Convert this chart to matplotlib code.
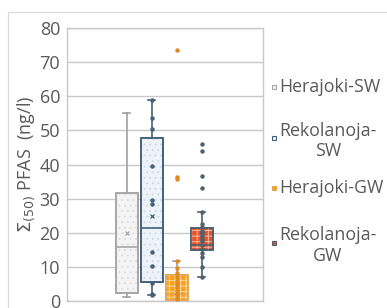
import matplotlib
matplotlib.use("Agg")
import matplotlib.pyplot as plt
from matplotlib.patches import PathPatch, Rectangle
from matplotlib.lines import Line2D

#=========================================================================================
names = ['Herajoki-SW', 'Rekolanoja-\nSW', 'Herajoki-GW', 'Rekolanoja-\nGW']
medians = [15.9, 21.4, 2.0, 16.5]
q1 = [2.4, 5.7, 0.3, 14.9]
q3 = [31.7, 47.7, 7.5, 21.4]
whislo = [1.2, 1.7, 0.0, 6.9]
whishi = [55.0, 59.0, 11.6, 26.0]
means = [19.8, 25.0, 4.5, 19.5]
outliers = [[], [], [73.6, 36.4, 35.8], [45.9, 44.0, 36.7, 33.0]]
inner_points = [
    [],
    [59.0, 53.7, 50.4, 39.6, 29.6, 28.5, 14.3, 10.3, 5.4, 2.0, 1.7],
    [11.6, 9.7, 8.2, 7.0, 6.0, 5.0, 4.0, 3.0, 2.0, 1.2, 0.5],
    [26.0, 22.5, 21.8, 20.5, 19.8, 19.0, 18.2, 17.5, 16.3, 15.2, 14.0, 13.0, 10.0, 6.9],
]

#=========================================================================================
face_colors = ['#f4f4f4', '#edf3f9', '#f7a21e', '#e8542a']
edge_colors = ['#a6a6a6', '#44607a', '#e3a656', '#50606e']
point_colors = ['#a6a6a6', '#44607a', '#e08a20', '#50606e']
hatches = ['...', '...', '+++', '+++']
hatch_colors = ['#dedede', '#cddbea', '#fcd9a0', '#f6b7a2']
text_color = '#595959'
grid_color = '#c8c8c8'

plt.rcParams['font.family'] = ['Open Sans', 'DejaVu Sans']
plt.rcParams['hatch.linewidth'] = 0.7

fig = plt.figure(figsize=(3.87, 3.08), dpi=100)
ax = fig.add_axes([67/387, 7/308, 196/387, 273/308])

positions = [1, 2, 3, 4]
stats = []
for i in range(4):
    stats.append({'med': medians[i], 'q1': q1[i], 'q3': q3[i],
                  'whislo': whislo[i], 'whishi': whishi[i],
                  'mean': means[i], 'fliers': outliers[i], 'label': names[i]})

bp = ax.bxp(stats, positions=positions, widths=0.88, patch_artist=True,
            showmeans=True, showfliers=True, capwidths=0.3, zorder=3)

for i in range(4):
    box = bp['boxes'][i]
    box.set_facecolor(face_colors[i])
    box.set_edgecolor(edge_colors[i])
    box.set_linewidth(1.2)
    overlay = PathPatch(box.get_path(), facecolor='none', edgecolor=hatch_colors[i],
                        linewidth=0, hatch=hatches[i], zorder=3.1)
    ax.add_patch(overlay)
    outline = PathPatch(box.get_path(), facecolor='none', edgecolor=edge_colors[i],
                        linewidth=1.2, zorder=3.2)
    ax.add_patch(outline)
    bp['medians'][i].set_color(edge_colors[i])
    bp['medians'][i].set_linewidth(1.2)
    bp['medians'][i].set_zorder(3.3)
    for k in (2*i, 2*i + 1):
        wc = '#a0a0a0' if i in (0, 2) else edge_colors[i]
        bp['whiskers'][k].set_color(wc)
        bp['whiskers'][k].set_linewidth(1.2)
        bp['caps'][k].set_color(wc)
        bp['caps'][k].set_linewidth(1.2)
    bp['means'][i].set_marker('x')
    bp['means'][i].set_markersize(3.5)
    bp['means'][i].set_markeredgecolor(point_colors[i])
    bp['means'][i].set_markeredgewidth(0.9)
    bp['means'][i].set_zorder(4)
    bp['fliers'][i].set_marker('o')
    bp['fliers'][i].set_markersize(2.2)
    bp['fliers'][i].set_markerfacecolor(point_colors[i])
    bp['fliers'][i].set_markeredgecolor(point_colors[i])
    bp['fliers'][i].set_zorder(4)
    if inner_points[i]:
        ax.plot([positions[i]] * len(inner_points[i]), inner_points[i], 'o',
                markersize=2.2, color=point_colors[i], zorder=4)

ax.set_xlim(-1.38, 6.46)
ax.set_ylim(0, 80)
ax.set_yticks(range(0, 81, 10))
ax.set_xticks([])
ax.tick_params(axis='y', length=0, pad=5, labelsize=13, labelcolor=text_color)
ax.yaxis.grid(True, color=grid_color, linewidth=1.0)
ax.set_axisbelow(True)
for s in ax.spines.values():
    s.set_color(grid_color)
    s.set_linewidth(1.0)

ax.set_ylabel(r'$\Sigma_{(50)}$ PFAS  (ng/l)', fontsize=13, color=text_color, labelpad=2)

#----------------------------------------------
# legend drawn by hand
legend_y = [86.7, 141, 188.3, 245.5]
marker_y = [86.7, 137.7, 188.3, 243]
for i in range(4):
    fig.add_artist(Rectangle(((274 - 2)/387, 1 - (marker_y[i] + 2)/308), 4/387, 4/308,
                             facecolor=face_colors[i], edgecolor=edge_colors[i], linewidth=0.8,
                             transform=fig.transFigure))
    fig.text(279/387, 1 - legend_y[i]/308, names[i], ha='left', va='center',
             multialignment='center', fontsize=12.8, color=text_color, linespacing=1.2)

# chart frame
fig.add_artist(Line2D([8/387, 1], [1 - 12/308, 1 - 12/308], color='#d9d9d9', linewidth=0.8))
fig.add_artist(Line2D([8/387, 8/387], [0, 1 - 12/308], color='#d9d9d9', linewidth=0.8))

fig.savefig('out.png', dpi=100)
